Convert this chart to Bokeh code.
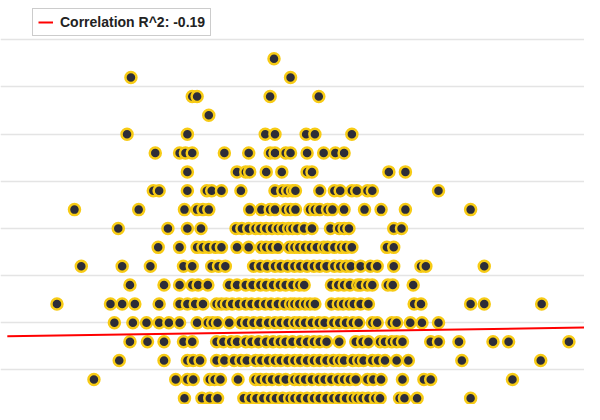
from bokeh.plotting import figure
from bokeh.models import Range1d, FixedTicker, Legend, LegendItem
from bokeh.embed import file_html
from bokeh.resources import INLINE

# y level of each row of dots (top to bottom)
row_values = [38, 36, 34, 32, 30, 28, 26, 24, 22, 20, 18, 16, 14, 12, 10, 8, 6, 4, 2]

# x values of the dots in each row
row_points = [
    [281],
    [134, 298],
    [197, 202, 277, 327],
    [214],
    [130, 192, 272, 282, 314, 323, 361],
    [159, 184, 190, 197, 230, 255, 277, 282, 293, 298, 315, 332, 344, 353],
    [192, 243, 252, 256, 273, 289, 315, 320, 399, 416],
    [157, 163, 192, 212, 217, 227, 247, 282, 290, 295, 300, 303, 328, 343, 349,
     361, 366, 377, 382, 450],
    [76, 142, 189, 202, 208, 214, 256, 268, 277, 282, 293, 298, 303, 318, 323,
     328, 336, 341, 353, 374, 391, 416, 483],
    [121, 172, 192, 206, 242, 248, 255, 262, 267, 273, 279, 285, 290, 296, 300,
     305, 312, 320, 339, 348, 353, 358, 404, 412],
    [162, 184, 202, 208, 214, 221, 227, 243, 255, 268, 273, 279, 285, 297, 302,
     307, 313, 319, 325, 332, 336, 343, 350, 355, 361, 397, 404],
    [83, 125, 154, 188, 197, 217, 224, 231, 260, 267, 274, 282, 288, 295, 302,
     308, 315, 322, 328, 335, 343, 349, 355, 360, 370, 380, 387, 404, 432, 437, 497],
    [133, 168, 184, 197, 203, 213, 235, 243, 252, 259, 267, 273, 280, 287, 293,
     300, 307, 312, 340, 347, 353, 359, 367, 370, 377, 382, 398, 403, 424],
    [58, 113, 125, 138, 163, 184, 192, 200, 208, 222, 227, 232, 238, 245, 252,
     258, 265, 272, 278, 285, 292, 298, 302, 307, 313, 318, 323, 340, 347, 352,
     358, 363, 370, 378, 425, 432, 483, 497, 556],
    [117, 136, 150, 163, 173, 184, 202, 213, 218, 223, 235, 247, 253, 260, 267,
     275, 282, 288, 295, 302, 307, 313, 320, 327, 333, 342, 348, 355, 362, 368,
     382, 387, 402, 407, 421, 433, 450],
    [133, 151, 168, 188, 197, 222, 229, 237, 243, 252, 258, 265, 273, 280, 287,
     293, 300, 308, 315, 322, 328, 335, 348, 365, 372, 378, 390, 395, 402, 407,
     413, 442, 450, 471, 506, 522, 584],
    [122, 168, 192, 198, 205, 222, 230, 240, 247, 253, 262, 268, 275, 282, 288,
     295, 302, 308, 315, 322, 328, 335, 342, 348, 353, 362, 368, 373, 382, 388,
     395, 407, 419, 474, 555],
    [96, 180, 192, 198, 215, 220, 226, 244, 262, 267, 273, 279, 286, 293, 302,
     307, 313, 320, 327, 333, 340, 347, 353, 359, 365, 377, 383, 391, 413, 435,
     442, 526],
    [189, 207, 215, 223, 250, 257, 263, 270, 277, 283, 290, 297, 302, 308, 315,
     322, 328, 335, 342, 348, 355, 362, 367, 372, 378, 385, 390, 410, 415, 428, 483],
]

# fitted line end points
fit_x = [7, 600]
fit_y = [8.58, 9.50]
corr_label = "Correlation R^2: -0.19"

grid_values = [5, 10, 15, 20, 25, 30, 35, 40]

xs = []
ys = []
for v, pts in zip(row_values, row_points):
    for px in pts:
        xs.append(px)
        ys.append(v)

p = figure(width=584, height=404, output_backend="svg", toolbar_location=None,
           x_range=Range1d(0, 600), y_range=Range1d(1.34, 44.17), min_border=0)
p.axis.visible = False
p.xgrid.visible = False
p.ygrid.ticker = FixedTicker(ticks=grid_values)
p.ygrid.grid_line_color = "#e4e4e4"
p.ygrid.grid_line_width = 1.5
p.outline_line_color = None

p.scatter(xs, ys, size=11, fill_color="#2d2d38", line_color="#f7cb15", line_width=2.5)
fit = p.line(fit_x, fit_y, line_color="#ff0000", line_width=2)

legend = Legend(items=[LegendItem(label=corr_label, renderers=[fit])], location=(32, 368))
legend.margin = 0
legend.padding = 5
legend.glyph_width = 15
legend.glyph_height = 14
legend.label_height = 14
legend.label_standoff = 7
legend.border_line_color = "#9a9a9a"
legend.border_line_width = 1
legend.label_text_font = "Liberation Sans"
legend.label_text_font_style = "bold"
legend.label_text_font_size = "14px"
legend.label_text_color = "#222222"
p.add_layout(legend)

open("out.html", "w").write(file_html(p, INLINE))
